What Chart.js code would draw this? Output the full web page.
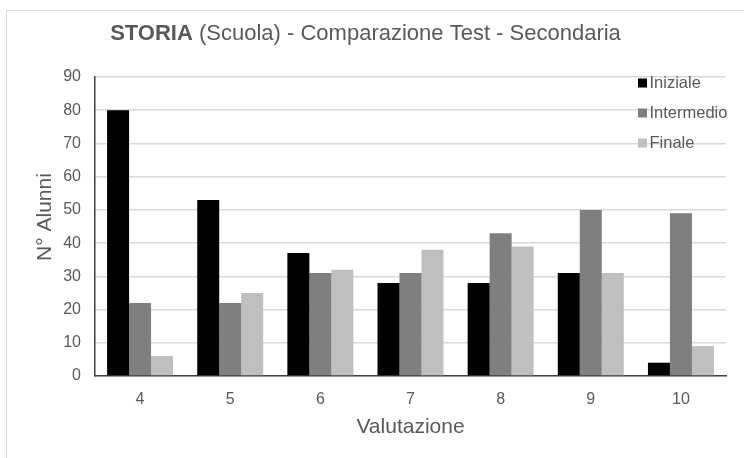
<!DOCTYPE html>
<html>
<head>
<meta charset="utf-8">
<script src="https://cdn.jsdelivr.net/npm/chart.js@4/dist/chart.umd.min.js"></script>
<style>
  html, body { margin: 0; padding: 0; background: #fff; }
  #wrap { width: 744px; height: 458px; position: relative; }
</style>
</head>
<body>
<div id="wrap"><canvas id="chart" width="744" height="458"></canvas></div>
<script>
var categories = ["4", "5", "6", "7", "8", "9", "10"];
var iniziale = [80, 53, 37, 28, 28, 31, 4];
var intermedio = [22, 22, 31, 31, 43, 50, 49];
var finale = [6, 25, 32, 38, 39, 31, 9];
var yTicks = [0, 10, 20, 30, 40, 50, 60, 70, 80, 90];

var txtColor = "#595959";
var fontFam = "'Liberation Sans', Arial, sans-serif";

// title (mixed bold), y title, frame and legend drawn by hand
var extras = {
    id: "extras",
    beforeDraw: function(chart){
        var ctx = chart.ctx;
        ctx.save();
        ctx.fillStyle = "#fff";
        ctx.fillRect(0, 0, chart.width, chart.height);
        ctx.strokeStyle = "#d9d9d9";
        ctx.lineWidth = 1;
        ctx.beginPath();
        ctx.moveTo(6.5, chart.height);
        ctx.lineTo(6.5, 10.5);
        ctx.lineTo(chart.width, 10.5);
        ctx.stroke();
        ctx.restore();
    },
    afterDraw: function(chart){
        var ctx = chart.ctx;
        ctx.save();
        ctx.fillStyle = txtColor;
        ctx.textBaseline = "alphabetic";

        var bold = "STORIA";
        var rest = " (Scuola) - Comparazione Test - Secondaria";
        ctx.font = "bold 22px " + fontFam;
        var wb = ctx.measureText(bold).width;
        ctx.font = "22px " + fontFam;
        var wr = ctx.measureText(rest).width;
        var x0 = 365.5 - (wb + wr) / 2;
        ctx.font = "bold 22px " + fontFam;
        ctx.fillText(bold, x0, 40);
        ctx.font = "22px " + fontFam;
        ctx.fillText(rest, x0 + wb, 40);

        // y axis title
        ctx.save();
        ctx.translate(45, 217);
        ctx.rotate(-Math.PI / 2);
        ctx.textAlign = "center";
        ctx.textBaseline = "middle";
        ctx.font = "21px " + fontFam;
        ctx.fillText("N° Alunni", 0, 0);
        ctx.restore();

        // legend
        ctx.font = "16.5px " + fontFam;
        ctx.textBaseline = "middle";
        chart.data.datasets.forEach(function(ds, i){
            var cy = 83 + i * 30;
            ctx.fillStyle = ds.backgroundColor;
            ctx.fillRect(638, cy - 4.5, 9, 9);
            ctx.fillStyle = txtColor;
            ctx.fillText(ds.label, 649.5, cy);
        });
        ctx.restore();
    }
};

new Chart(document.getElementById("chart"), {
    type: "bar",
    data: {
        labels: categories,
        datasets: [
            { label: "Iniziale", data: iniziale, backgroundColor: "#000000" },
            { label: "Intermedio", data: intermedio, backgroundColor: "#7f7f7f" },
            { label: "Finale", data: finale, backgroundColor: "#bfbfbf" }
        ]
    },
    options: {
        responsive: false,
        animation: false,
        layout: { padding: { top: 77, right: 18, left: 0, bottom: 0 } },
        categoryPercentage: 0.732,
        barPercentage: 1,
        plugins: {
            legend: { display: false },
            title: { display: false },
            tooltip: { enabled: false }
        },
        scales: {
            x: {
                grid: { display: false, drawTicks: false },
                border: { color: "#404040", width: 1.5 },
                ticks: { color: txtColor, font: { family: fontFam, size: 16 }, padding: 14 },
                title: {
                    display: true, text: "Valutazione", color: txtColor,
                    font: { family: fontFam, size: 21 }, padding: { top: 0, bottom: 18 }
                },
                afterFit: function(s){ s.height = 82; }
            },
            y: {
                min: 0, max: 90,
                afterBuildTicks: function(s){ s.ticks = yTicks.map(function(v){ return { value: v }; }); },
                grid: { color: "#d9d9d9", lineWidth: 1.5, drawTicks: false },
                border: { color: "#404040", width: 1.5 },
                ticks: { color: txtColor, font: { family: fontFam, size: 16 }, padding: 14 },
                afterFit: function(s){ s.width = 95; }
            }
        }
    },
    plugins: [extras]
});
</script>
</body>
</html>
